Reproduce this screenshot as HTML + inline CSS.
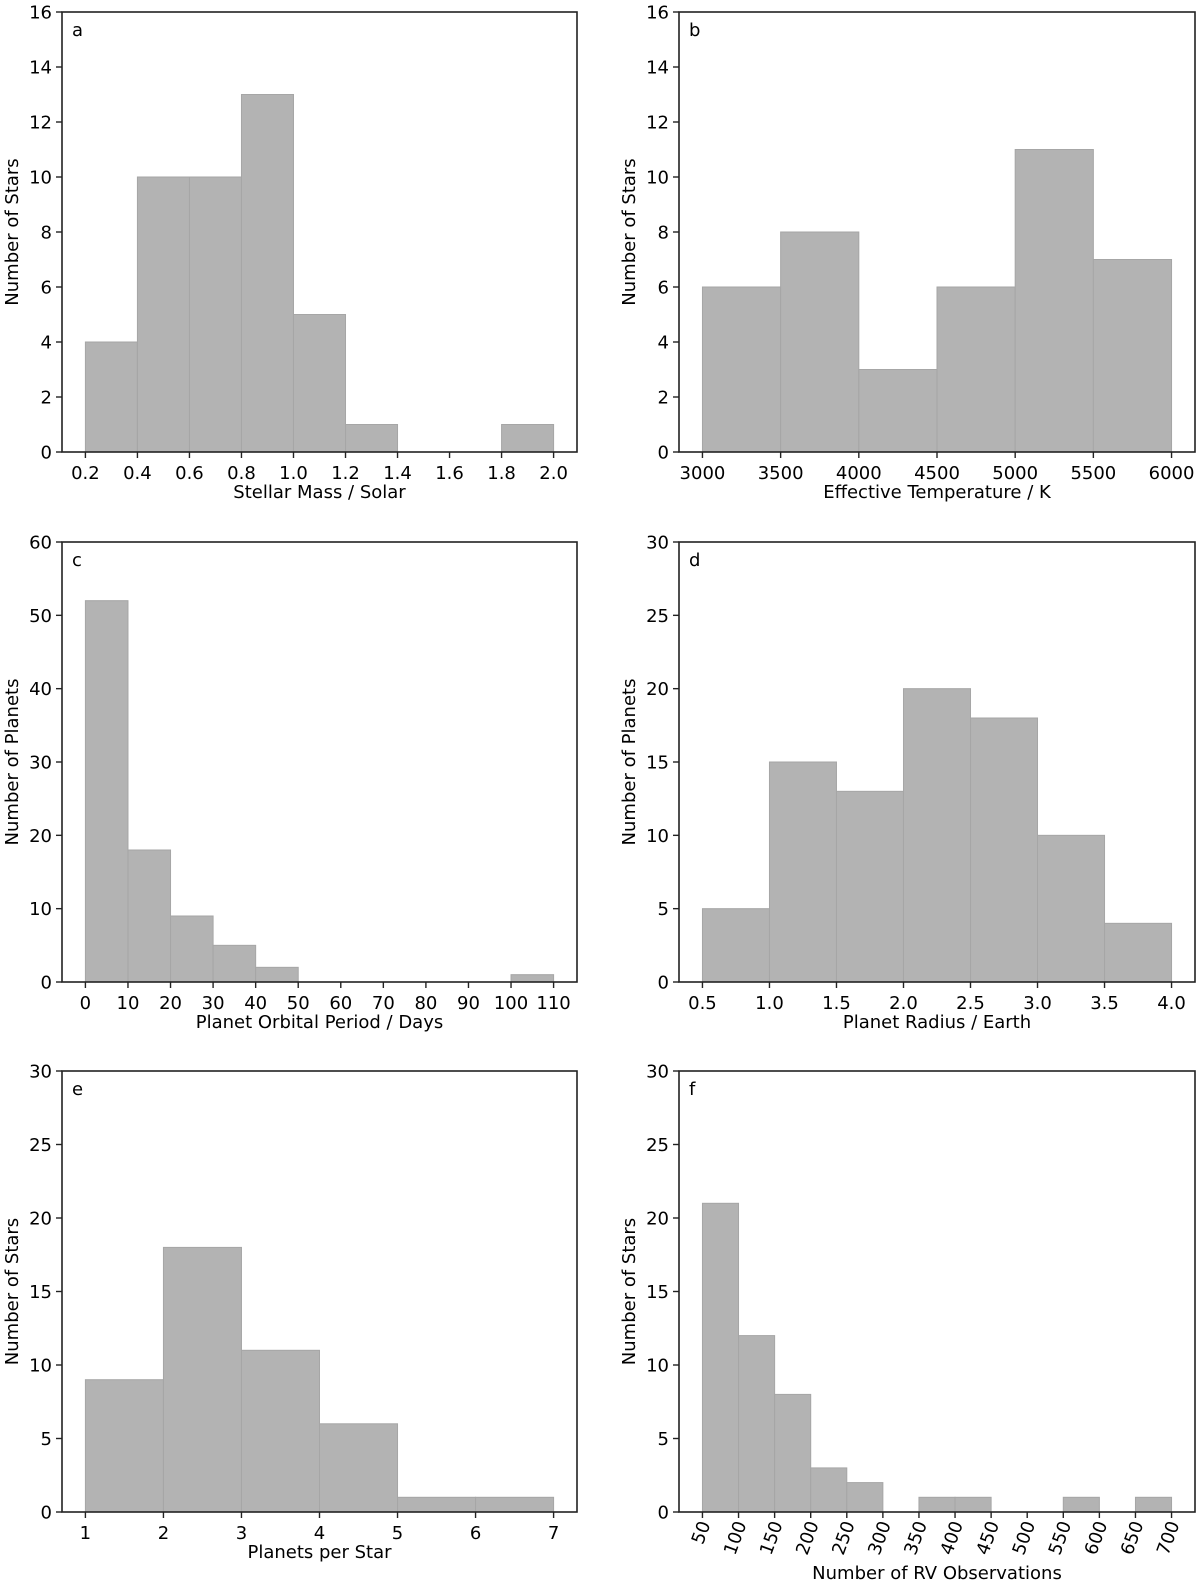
<!DOCTYPE html>
<html><head><meta charset="utf-8"><style>
body{margin:0;background:#fff}
svg{display:block;font-family:"DejaVu Sans","Liberation Sans",sans-serif}
</style></head><body>
<svg id="fig" width="1200" height="1585" viewBox="0 0 1200 1585"></svg>
<script>
const aEdges=[0.2,0.4,0.6,0.8,1.0,1.2,1.4,1.6,1.8,2.0];
const aCounts=[4,10,10,13,5,1,0,0,1];
const aTicks=[0.2,0.4,0.6,0.8,1.0,1.2,1.4,1.6,1.8,2.0];
const bEdges=[3000,3500,4000,4500,5000,5500,6000];
const bCounts=[6,8,3,6,11,7];
const bTicks=[3000,3500,4000,4500,5000,5500,6000];
const cEdges=[0,10,20,30,40,50,60,70,80,90,100,110];
const cCounts=[52,18,9,5,2,0,0,0,0,0,1];
const cTicks=[0,10,20,30,40,50,60,70,80,90,100,110];
const dEdges=[0.5,1.0,1.5,2.0,2.5,3.0,3.5,4.0];
const dCounts=[5,15,13,20,18,10,4];
const dTicks=[0.5,1.0,1.5,2.0,2.5,3.0,3.5,4.0];
const eEdges=[1,2,3,4,5,6,7];
const eCounts=[9,18,11,6,1,1];
const eTicks=[1,2,3,4,5,6,7];
const fEdges=[50,100,150,200,250,300,350,400,450,500,550,600,650,700];
const fCounts=[21,12,8,3,2,0,1,1,0,0,1,0,1];
const fTicks=[50,100,150,200,250,300,350,400,450,500,550,600,650,700];
const yTicks16=[0,2,4,6,8,10,12,14,16];
const yTicks60=[0,10,20,30,40,50,60];
const yTicks30=[0,5,10,15,20,25,30];

const NS="http://www.w3.org/2000/svg";
const svg=document.getElementById('fig');
function mk(tag,attrs,parent){const e=document.createElementNS(NS,tag);for(const k in attrs)e.setAttribute(k,attrs[k]);(parent||svg).appendChild(e);return e;}

const FS=18;
const panels=[
 {id:'a',edges:aEdges,counts:aCounts,xt:aTicks,yt:yTicks16,ymax:16,dec:1,x0:62,x1:577,y0:12,y1:452,xl:'Stellar Mass / Solar',yl:'Number of Stars'},
 {id:'b',edges:bEdges,counts:bCounts,xt:bTicks,yt:yTicks16,ymax:16,dec:0,x0:679,x1:1195,y0:12,y1:452,xl:'Effective Temperature / K',yl:'Number of Stars'},
 {id:'c',edges:cEdges,counts:cCounts,xt:cTicks,yt:yTicks60,ymax:60,dec:0,x0:62,x1:577,y0:542,y1:982,xl:'Planet Orbital Period / Days',yl:'Number of Planets'},
 {id:'d',edges:dEdges,counts:dCounts,xt:dTicks,yt:yTicks30,ymax:30,dec:1,x0:679,x1:1195,y0:542,y1:982,xl:'Planet Radius / Earth',yl:'Number of Planets'},
 {id:'e',edges:eEdges,counts:eCounts,xt:eTicks,yt:yTicks30,ymax:30,dec:0,x0:62,x1:577,y0:1071,y1:1512,xl:'Planets per Star',yl:'Number of Stars'},
 {id:'f',edges:fEdges,counts:fCounts,xt:fTicks,yt:yTicks30,ymax:30,dec:0,x0:679,x1:1195,y0:1071,y1:1512,xl:'Number of RV Observations',yl:'Number of Stars',rot:true}
];

panels.forEach(p=>{
  const g=mk('g',{});
  
  
  const lo=p.edges[0],hi=p.edges[p.edges.length-1],m=(hi-lo)*0.05;
  const xs=v=>p.x0+(v-lo+m)/(hi-lo+2*m)*(p.x1-p.x0);
  const ys=v=>p.y1-v/p.ymax*(p.y1-p.y0);
  p.counts.forEach((c,i)=>{
    if(c<=0)return;
    const r=mk('rect',{x:xs(p.edges[i]),y:ys(c),width:xs(p.edges[i+1])-xs(p.edges[i]),height:p.y1-ys(c),fill:'#b3b3b3',stroke:'#a6a6a6','stroke-width':1},g);
    
    
  });
  const fr=mk('rect',{x:p.x0,y:p.y0,width:p.x1-p.x0,height:p.y1-p.y0,fill:'none',stroke:'#222','stroke-width':1.6},g);
  
  
  p.xt.forEach(t=>{
    const x=xs(t);
    mk('line',{x1:x,x2:x,y1:p.y1,y2:p.y1+6,stroke:'#222','stroke-width':1.4},g);
    const s=t.toFixed(p.dec);
    let tx;
    if(p.rot){
      tx=mk('text',{x:x+3,y:p.y1+10,'font-size':FS,'text-anchor':'end',transform:`rotate(-70 ${x+3} ${p.y1+10})`,'dominant-baseline':'central'},g);
    }else{
      tx=mk('text',{x:x,y:p.y1+27,'font-size':FS,'text-anchor':'middle'},g);
    }
    tx.textContent=s;
    
    
  });
  p.yt.forEach(t=>{
    const y=ys(t);
    mk('line',{x1:p.x0-6,x2:p.x0,y1:y,y2:y,stroke:'#222','stroke-width':1.4},g);
    const tx=mk('text',{x:p.x0-10,y:y+6.5,'font-size':FS,'text-anchor':'end'},g);
    tx.textContent=t;
    
    
  });
  const lt=mk('text',{x:p.x0+10,y:p.y0+24,'font-size':FS},g);
  lt.textContent=p.id;
  
  
  const xl=mk('text',{x:(p.x0+p.x1)/2,y:p.rot?p.y1+67:p.y1+46,'font-size':FS,'text-anchor':'middle'},g);
  xl.textContent=p.xl;
  
  
  const yc=(p.y0+p.y1)/2, yx=p.x0-44;
  const yl=mk('text',{x:yx,y:yc,'font-size':FS,'text-anchor':'middle',transform:`rotate(-90 ${yx} ${yc})`},g);
  yl.textContent=p.yl;
  
  
});
</script>
</body></html>
